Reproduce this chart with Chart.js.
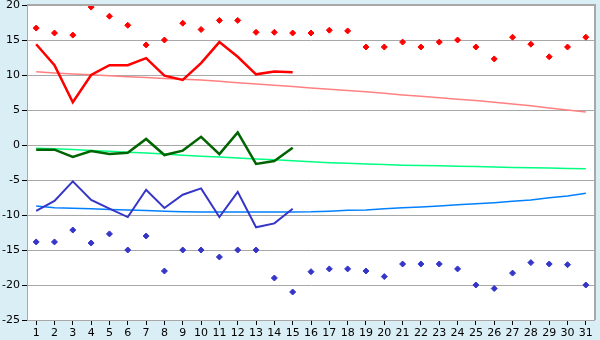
<!DOCTYPE html>
<html>
<head>
<meta charset="utf-8">
<script src="https://cdn.jsdelivr.net/npm/chart.js@4"></script>
<style>
html,body{margin:0;padding:0;background:#daeef5;}
#wrap{width:600px;height:340px;}
</style>
</head>
<body>
<div id="wrap"><canvas id="c" width="600" height="340"></canvas></div>
<script>
const days = Array.from({length:31}, (_, i) => String(i + 1));
const yTicks = [20, 15, 10, 5, 0, -5, -10, -15, -20, -25];

const maxRecord = [16.7,16.0,15.7,19.7,18.4,17.1,14.3,15.0,17.4,16.5,17.8,17.8,16.1,16.1,16.0,16.0,16.4,16.3,14.0,14.0,14.7,14.0,14.7,15.0,14.0,12.3,15.4,14.4,12.6,14.0,15.4];
const maxDaily = [14.4,11.4,6.1,10.0,11.4,11.4,12.4,9.9,9.3,11.7,14.7,12.6,10.1,10.5,10.4,null,null,null,null,null,null,null,null,null,null,null,null,null,null,null,null];
const maxNormal = [10.45,10.3,10.15,10.05,9.9,9.75,9.65,9.5,9.4,9.27,9.1,8.9,8.7,8.55,8.35,8.15,7.95,7.8,7.6,7.4,7.15,6.95,6.75,6.55,6.35,6.1,5.85,5.6,5.3,5.0,4.7];

const meanDaily = [-0.67,-0.67,-1.7,-0.86,-1.28,-1.1,0.86,-1.43,-0.8,1.17,-1.3,1.8,-2.7,-2.3,-0.4,null,null,null,null,null,null,null,null,null,null,null,null,null,null,null,null];
const meanNormal = [-0.45,-0.55,-0.65,-0.77,-0.9,-1.02,-1.15,-1.3,-1.45,-1.6,-1.73,-1.86,-2.0,-2.12,-2.25,-2.4,-2.52,-2.62,-2.72,-2.8,-2.88,-2.94,-2.98,-3.02,-3.08,-3.14,-3.2,-3.25,-3.3,-3.35,-3.4];

const minDaily = [-9.4,-8.0,-5.2,-7.85,-9.1,-10.3,-6.4,-9.0,-7.1,-6.2,-10.3,-6.7,-11.75,-11.2,-9.1,null,null,null,null,null,null,null,null,null,null,null,null,null,null,null,null];
const minNormal = [-8.7,-8.98,-9.05,-9.12,-9.2,-9.3,-9.36,-9.45,-9.52,-9.56,-9.56,-9.56,-9.56,-9.56,-9.56,-9.54,-9.45,-9.33,-9.28,-9.1,-8.95,-8.84,-8.7,-8.55,-8.4,-8.25,-8.05,-7.85,-7.55,-7.3,-6.9];
const minRecord = [-13.85,-13.85,-12.15,-14.0,-12.7,-15.0,-13.0,-18.0,-15.0,-15.0,-16.0,-15.0,-15.0,-19.0,-21.0,-18.1,-17.7,-17.7,-18.0,-18.8,-17.0,-17.0,-17.0,-17.7,-20.0,-20.5,-18.3,-16.8,-17.0,-17.1,-20.0];

const bgPlugin = {
  id: 'bg',
  beforeDraw(chart) {
    const ctx = chart.ctx, a = chart.chartArea;
    ctx.save();
    ctx.fillStyle = '#daeef5';
    ctx.fillRect(0, 0, chart.width, chart.height);
    ctx.fillStyle = '#ffffff';
    ctx.fillRect(a.left, a.top, a.right - a.left, a.bottom - a.top);
    ctx.restore();
  },
  afterDraw(chart) {
    const ctx = chart.ctx, a = chart.chartArea;
    ctx.save();
    ctx.strokeStyle = '#a8a8a8';
    ctx.lineWidth = 2;
    ctx.beginPath();
    ctx.moveTo(a.left, a.top);
    ctx.lineTo(a.right, a.top);
    ctx.lineTo(a.right, a.bottom);
    ctx.stroke();
    ctx.restore();
  }
};

function lineDs(data, color, width) {
  return { data, borderColor: color, backgroundColor: color, borderWidth: width, pointRadius: 0, fill: false, tension: 0, spanGaps: false };
}
function pointDs(data, color) {
  return { data, borderColor: color, backgroundColor: color, showLine: false, pointStyle: 'rectRot', pointRadius: 3, pointBorderWidth: 1, fill: false };
}

new Chart(document.getElementById('c'), {
  type: 'line',
  data: {
    labels: days,
    datasets: [
      lineDs(maxDaily, '#ff0000', 2.5),
      lineDs(meanDaily, '#006400', 2.5),
      lineDs(minDaily, '#3535c8', 2),
      pointDs(maxRecord, '#ff0000'),
      pointDs(minRecord, '#3535c8'),
      lineDs(maxNormal, '#ff8080', 1.5),
      lineDs(meanNormal, '#00ff80', 1.5),
      lineDs(minNormal, '#0080ff', 1.5)
    ]
  },
  options: {
    responsive: false,
    animation: false,
    devicePixelRatio: 1,
    layout: { padding: { top: 5, right: 5, left: 0, bottom: 0 } },
    plugins: { legend: { display: false }, tooltip: { enabled: false } },
    scales: {
      x: {
        offset: true,
        grid: { display: true, drawOnChartArea: false, offset: false, tickLength: 5, color: '#000000', tickWidth: 1 },
        border: { display: false },
        ticks: { color: '#000000', font: { family: 'DejaVu Sans', size: 11 }, padding: 2, maxRotation: 0, autoSkip: false },
        afterFit(s) { s.height = 20; s.paddingLeft = 0; s.paddingRight = 0; }
      },
      y: {
        min: -25, max: 20,
        afterBuildTicks(s) { s.ticks = yTicks.map(v => ({ value: v })); },
        grid: { color: '#a8a8a8', lineWidth: 1, tickLength: 5, tickColor: '#000000' },
        border: { display: true, color: '#a8a8a8', width: 1 },
        ticks: { color: '#000000', font: { family: 'DejaVu Sans', size: 11 }, padding: 2 },
        afterFit(s) { s.width = 27; s.paddingTop = 0; s.paddingBottom = 0; }
      }
    }
  },
  plugins: [bgPlugin]
});
</script>
</body>
</html>
